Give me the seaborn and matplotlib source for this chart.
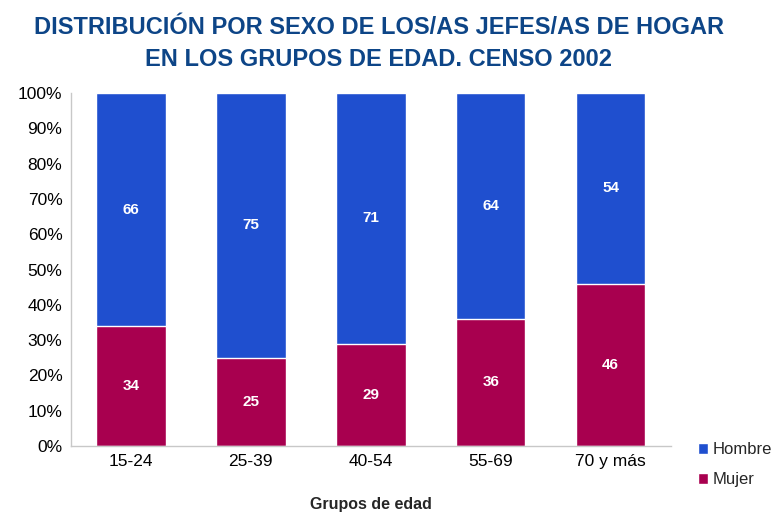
import numpy as np
import pandas as pd
import matplotlib
matplotlib.use("Agg")
import matplotlib.pyplot as plt
import seaborn as sns
from matplotlib.ticker import PercentFormatter

grupos = ["15-24", "25-39", "40-54", "55-69", "70 y más"]
hombre = [66, 75, 71, 64, 54]
mujer = [34, 25, 29, 36, 46]

azul = "#1f4fcf"
magenta = "#a8004f"

sns.set_theme(style="white")
plt.rcParams["font.family"] = ["Liberation Sans", "DejaVu Sans"]

df = pd.DataFrame({"grupo": grupos, "hombre": hombre, "mujer": mujer})
df["total"] = df["hombre"] + df["mujer"]

fig = plt.figure(figsize=(7.78, 5.13), dpi=100)
ax = fig.add_axes([0.091, 0.1306, 0.771, 0.688])

sns.barplot(data=df, x="grupo", y="total", color=azul, width=0.58, saturation=1, ax=ax, label="Hombre")
sns.barplot(data=df, x="grupo", y="mujer", color=magenta, width=0.58, saturation=1, ax=ax, label="Mujer")

# etiquetas en el centro de cada segmento
for i, row in df.iterrows():
    ax.text(i, row["mujer"] + row["hombre"] / 2, str(row["hombre"]), ha="center", va="center",
            color="white", fontsize=11, fontweight="bold")
    ax.text(i, row["mujer"] / 2, str(row["mujer"]), ha="center", va="center",
            color="white", fontsize=11, fontweight="bold")

ax.set_ylim(0, 100)
ax.set_xlim(-0.5, 4.5)
ax.set_yticks(np.arange(0, 101, 10))
ax.yaxis.set_major_formatter(PercentFormatter(decimals=0))
ax.tick_params(axis="both", labelsize=12.5, colors="black", length=0, pad=6)
ax.set_xlabel("Grupos de edad", fontsize=11.5, fontweight="bold", labelpad=20)
ax.set_ylabel("")
for s in ["top", "right"]:
    ax.spines[s].set_visible(False)
for s in ["left", "bottom"]:
    ax.spines[s].set_color("#c8c8c8")
    ax.spines[s].set_linewidth(1)

handles, labels = ax.get_legend_handles_labels()
ax.legend(handles, labels, loc="lower left", bbox_to_anchor=(1.02, -0.16), frameon=False,
          fontsize=12, handlelength=0.6, handleheight=0.6, handletextpad=0.3, labelspacing=0.9)

fig.suptitle("DISTRIBUCIÓN POR SEXO DE LOS/AS JEFES/AS DE HOGAR\nEN LOS GRUPOS DE EDAD. CENSO 2002",
             x=0.487, y=0.968, fontsize=17, fontweight="bold", color="#0d4587", linespacing=1.45)

fig.savefig("out.png", dpi=100)
